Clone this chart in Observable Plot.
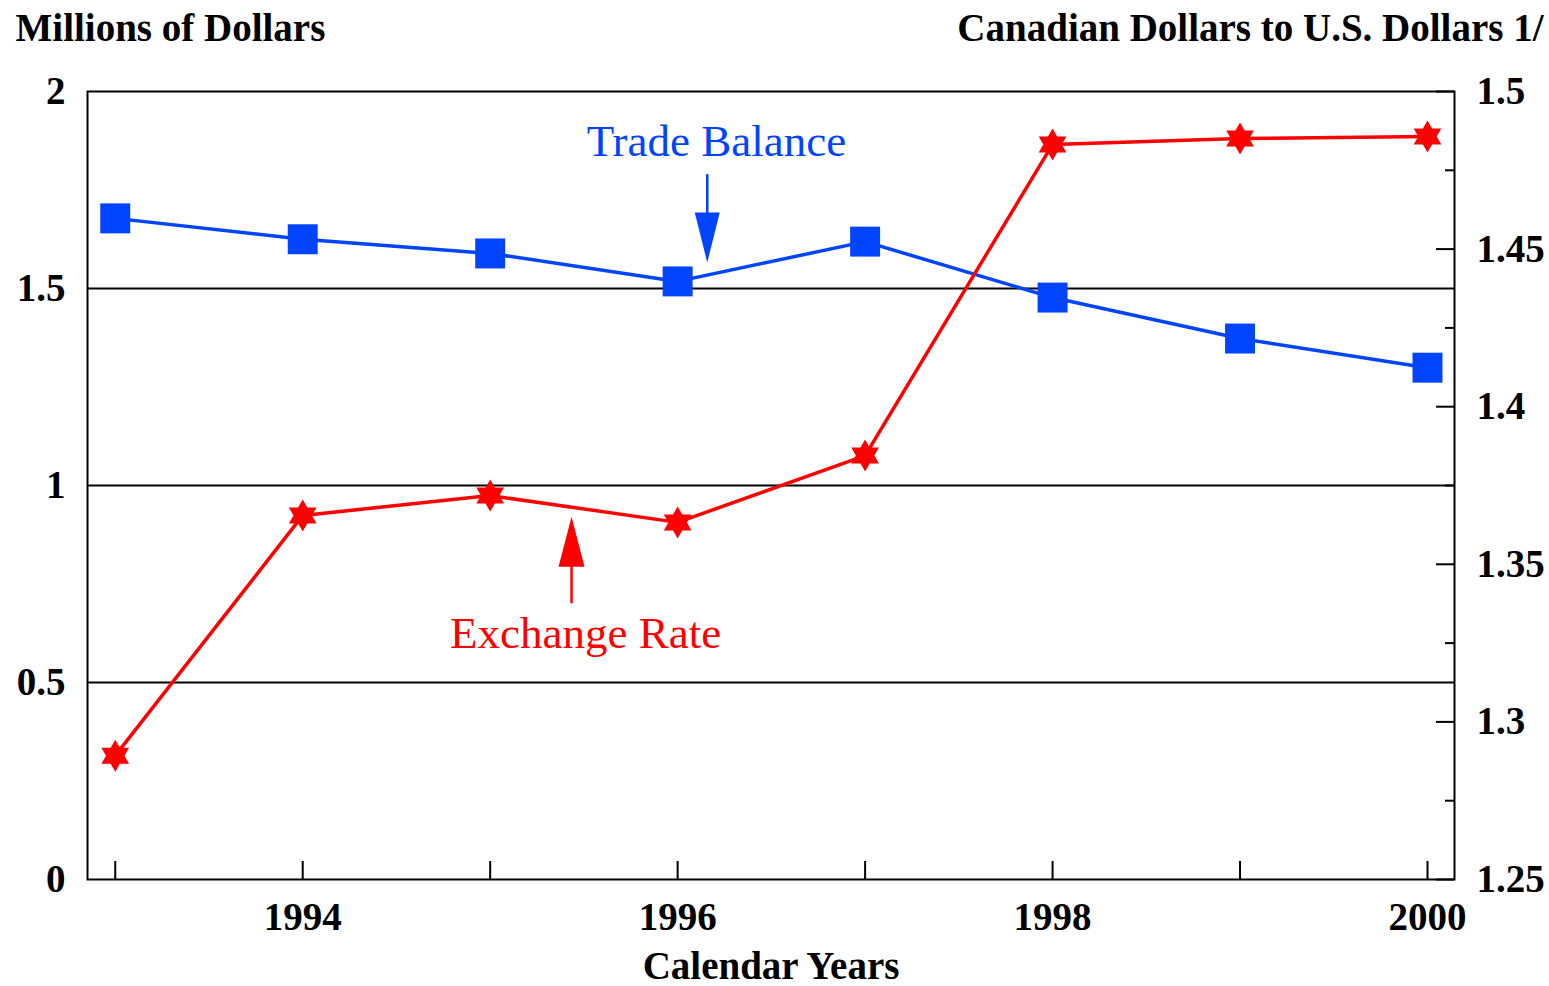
<!DOCTYPE html>
<html>
<head>
<meta charset="utf-8">
<script src="https://cdn.jsdelivr.net/npm/d3@7"></script>
<script src="https://cdn.jsdelivr.net/npm/@observablehq/plot@0.6"></script>
<style>
  html, body { margin: 0; padding: 0; background: #fff; }
</style>
</head>
<body>
<div id="chart"></div>
<script>
// ---- data ----
const years = [1993, 1994, 1995, 1996, 1997, 1998, 1999, 2000];
const tradeBalance = [1.678, 1.625, 1.589, 1.518, 1.619, 1.477, 1.373, 1.299]; // millions of dollars
const exchangeRate = [1.2893, 1.3655, 1.3718, 1.3633, 1.3845, 1.4832, 1.4851, 1.4857]; // CAD per USD
const xTickLabels = [1994, 1996, 1998, 2000];
const leftTicks = [0, 0.5, 1, 1.5, 2];
const gridValues = [0.5, 1, 1.5];
const rightMajorTicks = [1.25, 1.3, 1.35, 1.4, 1.45, 1.5];
const rightMinorTicks = [1.275, 1.325, 1.375, 1.425, 1.475];

// right axis (1.25..1.5) mapped onto left axis (0..2)
const toLeft = v => (v - 1.25) * 8;
const fromLeft = v => v / 8 + 1.25;

const trade = years.map((year, i) => ({year, value: tradeBalance[i]}));
const rate = years.map((year, i) => ({year, value: toLeft(exchangeRate[i])}));

const BLUE = "#0044ff";
const RED = "#ff0000";
const FONT = "Liberation Serif, Times New Roman, serif";
const FS = 39;

const W = 1549, H = 986;
const mL = 87, mR = 95, mT = 91, mB = 107;
const frameW = W - mL - mR, frameH = H - mT - mB;

// custom symbols
const hexagram = {
  draw(context, size) {
    const R = Math.sqrt(size / Math.PI);
    const r = R / Math.sqrt(3);
    for (let i = 0; i < 12; i++) {
      const a = -Math.PI / 2 + i * Math.PI / 6;
      const rad = i % 2 ? r : R;
      const x = rad * Math.cos(a), y = rad * Math.sin(a);
      if (i === 0) context.moveTo(x, y); else context.lineTo(x, y);
    }
    context.closePath();
  }
};
const headDown = {
  draw(context) {
    context.moveTo(0, 0); context.lineTo(-12.5, -50); context.lineTo(12.5, -50); context.closePath();
  }
};
const headUp = {
  draw(context) {
    context.moveTo(0, 0); context.lineTo(-13, 50); context.lineTo(13, 50); context.closePath();
  }
};

const chart = Plot.plot({
  width: W,
  height: H,
  marginLeft: mL,
  marginRight: mR,
  marginTop: mT,
  marginBottom: mB,
  style: {fontFamily: FONT, background: "#fff", color: "#000"},
  x: {domain: [1992.852, 2000.144], axis: null},
  y: {domain: [0, 2], axis: null},
  marks: [
    Plot.ruleY(gridValues, {stroke: "#000", strokeWidth: 2}),
    // trade balance
    Plot.line(trade, {x: "year", y: "value", stroke: BLUE, strokeWidth: 3.5}),
    // exchange rate
    Plot.line(rate, {x: "year", y: "value", stroke: RED, strokeWidth: 3.5}),
    Plot.dot(trade, {x: "year", y: "value", symbol: "square", r: 16.9, fill: BLUE, stroke: "none"}),
    Plot.dot(rate, {x: "year", y: "value", symbol: hexagram, r: 16, fill: RED, stroke: "none"}),
    // annotations
    Plot.ruleX([1996.158], {y1: 1.62, y2: 1.789, stroke: BLUE, strokeWidth: 2.5}),
    Plot.dot([1996.158], {x: d => d, y: 1.566, symbol: headDown, fill: BLUE, stroke: "none"}),
    Plot.text(["Trade Balance"], {x: 1996.207, y: 1.874, text: d => d, fill: BLUE, fontSize: 45, fontFamily: FONT, textAnchor: "middle", lineAnchor: "middle"}),
    Plot.ruleX([1995.434], {y1: 0.70, y2: 0.86, stroke: RED, strokeWidth: 2.5}),
    Plot.dot([1995.434], {x: d => d, y: 0.921, symbol: headUp, fill: RED, stroke: "none"}),
    Plot.text(["Exchange Rate"], {x: 1995.509, y: 0.625, text: d => d, fill: RED, fontSize: 45, fontFamily: FONT, textAnchor: "middle", lineAnchor: "middle"}),
    // frame and inward ticks
    Plot.frame({stroke: "#000", strokeWidth: 2}),
    Plot.tickX(years, {x: d => d, insetTop: frameH - 18, stroke: "#000", strokeWidth: 2}),
    Plot.tickY(rightMajorTicks.map(toLeft), {y: d => d, insetLeft: frameW - 18, stroke: "#000", strokeWidth: 2}),
    Plot.tickY(rightMinorTicks.map(toLeft), {y: d => d, insetLeft: frameW - 9, stroke: "#000", strokeWidth: 2}),
    // axes labels
    Plot.axisY(leftTicks, {anchor: "left", tickSize: 0, tickPadding: 22, tickFormat: d => String(d), fontSize: FS, fontWeight: "bold", fontFamily: FONT, label: null}),
    Plot.axisY(rightMajorTicks.map(toLeft), {anchor: "right", tickSize: 0, tickPadding: 22, tickFormat: d => String(+fromLeft(d).toFixed(3)), fontSize: FS, fontWeight: "bold", fontFamily: FONT, label: null}),
    Plot.axisX(xTickLabels, {anchor: "bottom", tickSize: 0, tickPadding: 23, tickFormat: d => String(d), fontSize: FS, fontWeight: "bold", fontFamily: FONT, label: null}),
    // titles
    Plot.text(["Calendar Years"], {frameAnchor: "bottom", dy: 87, text: d => d, fontSize: FS, fontWeight: "bold", fontFamily: FONT, lineAnchor: "middle"}),
    Plot.text(["Millions of Dollars"], {frameAnchor: "top-left", dx: -72, dy: -63, text: d => d, fontSize: FS, fontWeight: "bold", fontFamily: FONT, textAnchor: "start", lineAnchor: "middle"}),
    Plot.text(["Canadian Dollars to U.S. Dollars 1/"], {frameAnchor: "top-right", dx: 89, dy: -63, text: d => d, fontSize: FS, fontWeight: "bold", fontFamily: FONT, textAnchor: "end", lineAnchor: "middle"})
  ]
});
document.getElementById("chart").appendChild(chart);
</script>
</body>
</html>
